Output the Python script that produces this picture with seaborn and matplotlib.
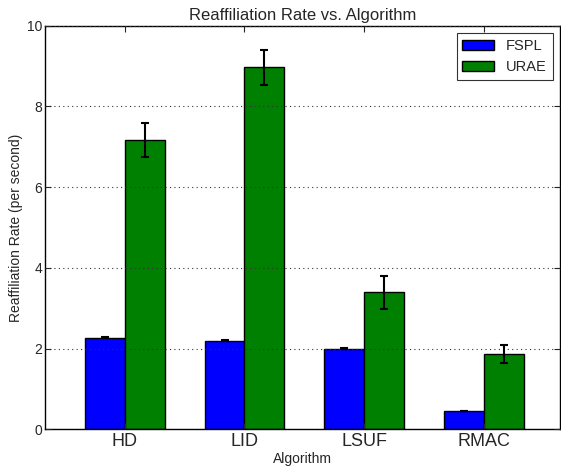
import numpy as np
import pandas as pd
import matplotlib
matplotlib.use("Agg")
import matplotlib.pyplot as plt
import seaborn as sns

# Du lieu doc tu hinh goc
algorithms = ["HD", "LID", "LSUF", "RMAC"]
schemes = ["FSPL", "URAE"]
fspl_rate = [2.27, 2.20, 2.00, 0.46]
urae_rate = [7.17, 8.97, 3.40, 1.87]
fspl_err = [0.005, 0.005, 0.005, 0.005]
urae_err = [0.42, 0.43, 0.41, 0.23]

df = pd.DataFrame({
    "Algorithm": algorithms * 2,
    "Scheme": ["FSPL"] * 4 + ["URAE"] * 4,
    "Rate": fspl_rate + urae_rate,
})
errors = {"FSPL": fspl_err, "URAE": urae_err}

sns.set_theme(style="white")
plt.rcParams["font.family"] = ["Liberation Sans", "DejaVu Sans"]
plt.rcParams["xtick.direction"] = "in"
plt.rcParams["ytick.direction"] = "in"

fig = plt.figure(figsize=(5.61, 4.70), dpi=100)
ax = fig.add_axes([45 / 561, 1 - 429.3 / 470, 515 / 561, (429.3 - 25.7) / 470])

sns.barplot(data=df, x="Algorithm", y="Rate", hue="Scheme", order=algorithms,
            hue_order=schemes, palette=["#0000ff", "#008000"], saturation=1,
            width=2 / 3, edgecolor="black", linewidth=1.0, errorbar=None, ax=ax)

# Ve thanh sai so tai tam moi cot
for cont, name in zip(ax.containers, schemes):
    for bar, err in zip(cont, errors[name]):
        ax.errorbar(bar.get_x() + bar.get_width() / 2, bar.get_height(), yerr=err,
                    fmt="none", ecolor="black", elinewidth=1.5, capsize=2.6, capthick=1.5,
                    zorder=5)

ax.set_xlim(-0.663, 3.63)
ax.set_ylim(0, 10)
ax.set_yticks([0, 2, 4, 6, 8, 10])
ax.set_axisbelow(False)
ax.yaxis.grid(True, linestyle=(0, (1, 3)), color="#333333", linewidth=0.8)
ax.xaxis.grid(False)

ax.tick_params(axis="x", labelsize=13, top=True, bottom=True, length=4, width=0.8, pad=3)
ax.tick_params(axis="y", labelsize=10, left=True, right=True, length=4, width=0.8, pad=2)
for sp in ax.spines.values():
    sp.set_color("black")
    sp.set_linewidth(1.0)

ax.set_title("Reaffiliation Rate vs. Algorithm", fontsize=12, pad=4)
ax.set_xlabel("Algorithm", fontsize=10, labelpad=1)
ax.set_ylabel("Reaffiliation Rate (per second)", fontsize=10, labelpad=3)

leg = ax.legend(loc="upper right", fontsize=10.5, frameon=True, fancybox=False,
                edgecolor="black", borderaxespad=0.5, handlelength=2.2, title=None)
leg.get_frame().set_linewidth(0.8)

fig.savefig("out.png", dpi=100)
